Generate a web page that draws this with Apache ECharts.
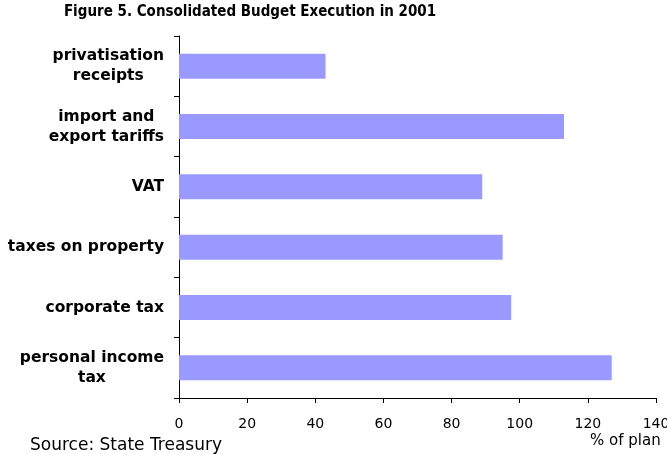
<!DOCTYPE html>
<html>
<head>
<meta charset="utf-8">
<script src="https://cdn.jsdelivr.net/npm/echarts@6/dist/echarts.min.js"></script>
<style>
  html, body { margin: 0; padding: 0; background: #fff; }
  #chart { width: 667px; height: 454px; }
</style>
</head>
<body>
<div id="chart"></div>
<script>
// Revenue items, listed top to bottom
const categories = [
  'privatisation\nreceipts',
  'import and\nexport tariffs',
  'VAT',
  'taxes on property',
  'corporate tax',
  'personal income\ntax'
];
// Execution, % of plan
const executionPct = [43, 113, 89, 95, 97.5, 127];
const xTicks = { min: 0, max: 140, step: 20 };

const chart = echarts.init(document.getElementById('chart'), null, { renderer: 'canvas' });

chart.setOption({
  animation: false,
  backgroundColor: '#ffffff',
  grid: {
    left: 179, right: 11, top: 36, bottom: 56,
    containLabel: false,
    outerBoundsMode: 'none'
  },
  xAxis: {
    type: 'value',
    min: xTicks.min,
    max: xTicks.max,
    interval: xTicks.step,
    axisLine: { show: true, lineStyle: { color: '#000', width: 1 } },
    axisTick: { show: true, length: 5, lineStyle: { color: '#000' } },
    splitLine: { show: false },
    axisLabel: {
      margin: 19,
      color: '#000',
      fontFamily: 'DejaVu Sans',
      fontSize: 14
    }
  },
  yAxis: {
    type: 'category',
    inverse: true,
    data: categories,
    axisLine: { show: true, lineStyle: { color: '#000', width: 1 } },
    axisTick: { show: true, length: 5, lineStyle: { color: '#000' } },
    axisLabel: {
      margin: 15,
      align: 'right',
      formatter: v => v.split('\n').map(l => '{c|' + l + '}').join('\n'),
      rich: {
        c: {
          align: 'center',
          color: '#000',
          fontFamily: 'DejaVu Sans',
          fontWeight: 'bold',
          fontSize: 15.5,
          lineHeight: 20
        }
      }
    }
  },
  series: [{
    type: 'bar',
    data: executionPct,
    barWidth: 25,
    itemStyle: { color: '#9999ff' }
  }],
  graphic: [
    {
      type: 'text',
      x: 250,
      y: 12,
      style: {
        text: 'Figure 5. Consolidated Budget Execution in 2001',
        font: 'bold 15px "DejaVu Sans Condensed", "DejaVu Sans"',
        fill: '#000',
        align: 'center',
        verticalAlign: 'middle'
      }
    },
    {
      type: 'text',
      x: 30,
      y: 446,
      style: {
        text: 'Source: State Treasury',
        font: '17px "DejaVu Sans"',
        fill: '#000',
        align: 'left',
        verticalAlign: 'middle'
      }
    },
    {
      type: 'text',
      x: 590,
      y: 441,
      style: {
        text: '% of plan',
        font: '15px "DejaVu Sans"',
        fill: '#000',
        align: 'left',
        verticalAlign: 'middle'
      }
    }
  ]
});
</script>
</body>
</html>
